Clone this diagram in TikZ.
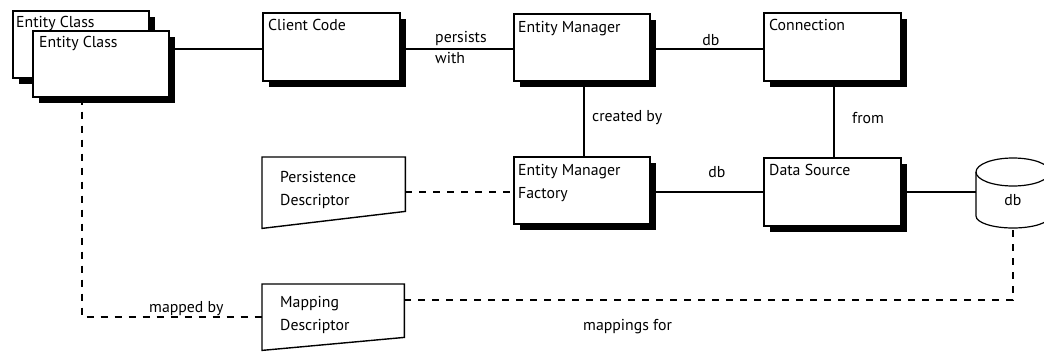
\documentclass[tikz,border=0pt]{standalone}
\usepackage{fontspec}
\setmainfont{PT Sans}
\usetikzlibrary{shadows}
\begin{document}
\begin{tikzpicture}[x=1pt,y=-1pt,
  box/.style={draw, line width=1.6pt, fill=white, inner sep=0pt, anchor=north west,
    general shadow={fill=black, shadow xshift=6pt, shadow yshift=-6pt}},
  ghost/.style={inner sep=0pt, anchor=north west},
  txt/.style={font=\fontsize{15.8}{19}\selectfont, inner sep=0pt, anchor=base west},
  lbl/.style={font=\fontsize{15.8}{19}\selectfont, inner sep=0pt},
  conn/.style={line width=1.6pt},
  dconn/.style={line width=1.6pt, dash pattern=on 7pt off 7pt},
  shp/.style={draw, line width=1.4pt, line join=miter}]
\useasboundingbox (0,0) rectangle (1044,351);
% boxes
\node[box, minimum width=136pt, minimum height=67pt] (EC1) at (12,10) {};
\node[txt] (tEC1) at (16,27) {Entity Class};
\node[box, minimum width=136pt, minimum height=66pt] (EC2) at (32,30) {};
\node[txt] (tEC2) at (39,47) {Entity Class};
\node[box, minimum width=137pt, minimum height=68pt] (CC) at (262,12) {};
\node[txt] (tCC) at (268,30) {Client Code};
\node[box, minimum width=136pt, minimum height=67pt] (EM) at (513,13) {};
\node[txt] (tEM) at (518,32) {Entity Manager};
\node[box, minimum width=137pt, minimum height=68pt] (CN) at (763,12) {};
\node[txt] (tCN) at (769,30) {Connection};
\node[box, minimum width=136pt, minimum height=67pt] (EMF) at (513,156) {};
\node[txt] (tEMF1) at (518,175) {Entity Manager};
\node[txt] (tEMF2) at (518,198) {Factory};
\node[box, minimum width=137pt, minimum height=68pt] (DS) at (763,157) {};
\node[txt] (tDS) at (769,175) {Data Source};
% descriptors
\node[ghost, minimum width=143pt, minimum height=71pt] (PD) at (262,157) {};
\draw[shp] (PD.north west) -- (PD.north east) -- ([yshift=17pt]PD.south east) -- (PD.south west) -- cycle;
\node[txt] (tPD1) at (280,182) {Persistence};
\node[txt] (tPD2) at (280,205) {Descriptor};
\node[ghost, minimum width=142pt, minimum height=66pt] (MD) at (262,284) {};
\draw[shp] (MD.north west) -- (MD.north east) -- ([yshift=13pt]MD.south east) -- (MD.south west) -- cycle;
\node[txt] (tMD1) at (280,307) {Mapping};
\node[txt] (tMD2) at (280,330) {Descriptor};
% database cylinder
\node[ghost, minimum width=74pt, minimum height=72pt] (DB) at (976,157) {};
\draw[shp, line width=1.2pt] (976,172) -- (976,216) arc[start angle=180, end angle=360, x radius=37pt, y radius=12pt] -- (1050,172);
\draw[shp, line width=1.2pt] (1013,172) ellipse[x radius=37pt, y radius=14pt];
\node[lbl, anchor=base] (tDB) at (1013,205) {db};
% helper coordinates
\coordinate (rowA) at (0,49);
\coordinate (rowB) at (0,192);
\coordinate (rowC) at (0,300);
\coordinate (rowD) at (0,317);
\coordinate (colE) at (82,0);
\coordinate (colF) at (584,0);
\coordinate (colG) at (834,0);
\coordinate (colH) at (1013,0);
% connectors
\draw[conn] (EC2.east |- rowA) -- (CC.west |- rowA);
\draw[conn] (CC.east |- rowA) -- (EM.west |- rowA);
\draw[conn] (EM.east |- rowA) -- (CN.west |- rowA);
\draw[conn] (colF |- EM.south) -- (colF |- EMF.north);
\draw[conn] (colG |- CN.south) -- (colG |- DS.north);
\draw[conn] (EMF.east |- rowB) -- (DS.west |- rowB);
\draw[conn] (DS.east |- rowB) -- (DB.west |- rowB);
\draw[dconn] (PD.east |- rowB) -- (EMF.west |- rowB);
\draw[dconn] (colE |- EC2.south) -- (colE |- rowD) -- (MD.west |- rowD);
\draw[dconn] (MD.east |- rowC) -- (colH |- rowC) -- (colH |- DB.south);
% connector labels
\node[lbl, anchor=base west] (lp1) at (435,42) {persists};
\node[lbl, anchor=base west] (lp2) at (435,63) {with};
\node[lbl, anchor=base] (ldb1) at (711,45) {db};
\node[lbl, anchor=base] (ldb2) at (717,177) {db};
\node[lbl, anchor=base west] (lcb) at (592,121) {created by};
\node[lbl, anchor=base west] (lfr) at (852,123) {from};
\node[lbl, anchor=base west] (lmb) at (149,312) {mapped by};
\node[lbl, anchor=base west] (lmf) at (583,330) {mappings for};
\end{tikzpicture}
\end{document}
